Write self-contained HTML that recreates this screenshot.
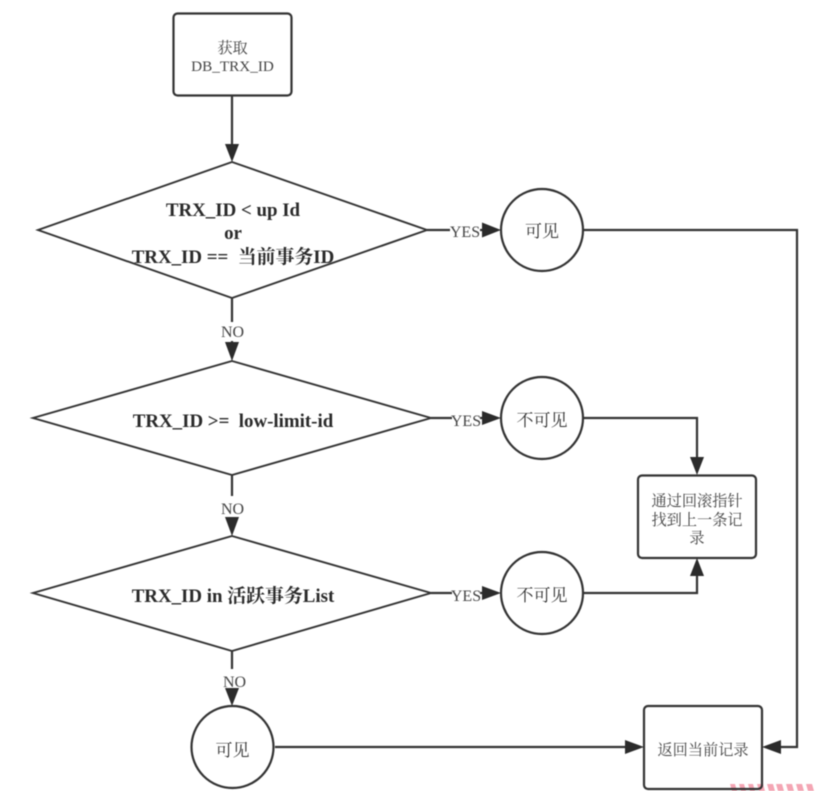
<!DOCTYPE html>
<html><head><meta charset="utf-8"><style>
html,body{margin:0;padding:0;background:#fff}
svg{display:block;filter:blur(.45px)}
text{font-family:"Liberation Serif","Noto Serif CJK SC",serif;text-anchor:middle;fill:#333}
.b{font-weight:bold;font-size:18.9px;fill:#2a2a2a}
.s{font-size:15.200px;fill:#444}
.c{font-size:17px;fill:#333}
.l{font-size:16px;fill:#444}
</style></head><body>
<svg width="818" height="791" viewBox="0 0 818 791" xmlns="http://www.w3.org/2000/svg">
<rect width="818" height="791" fill="#fff"/>
<g fill="#f4a6b4"><path d="M730 784h5l2 7h-5zM739 784h5l2 7h-5zM748 784h5l2 7h-5zM757 784h6l2 7h-6zM767 784h6l2 7h-6zM776 784h6l2 7h-6zM786 784h6l2 7h-6zM796 784h6l2 7h-6zM806 784h6l2 7h-6z"/></g>
<g fill="none" stroke="#333" stroke-width="2.2">
<rect x="173.5" y="13.5" width="118" height="82" rx="4"/>
<rect x="638" y="475.5" width="118" height="82.5" rx="4"/>
<rect x="644" y="706" width="118" height="83" rx="4"/>
<circle cx="542" cy="230" r="41"/>
<circle cx="542" cy="418" r="41"/>
<circle cx="542" cy="593" r="41"/>
<circle cx="232.5" cy="747" r="41"/>
</g>
<g fill="none" stroke="#333" stroke-width="1.9" stroke-linejoin="miter">
<path d="M232 162L427 230L232 298L38 230Z"/>
<path d="M232 361L431 418L232 475L33 418Z"/>
<path d="M232 536L431 593L232 651L33 593Z"/>
</g>
<g fill="none" stroke="#333" stroke-width="2.2">
<path d="M232 96V146"/>
<path d="M232 298V322M232 341V346"/>
<path d="M232 475V496M232 518V522"/>
<path d="M232 651V669M232 690V694"/>
<path d="M427 230H450M480 230H486"/>
<path d="M431 418H452M480 418H486"/>
<path d="M431 593H452M480 593H486"/>
<path d="M583 230H797V747H778"/>
<path d="M583 418H697V458"/>
<path d="M583 593H697V575"/>
<path d="M275 747H628"/>
</g>
<g fill="#2b2b2b">
<path d="M225 144H239L232 162Z"/>
<path d="M225 342H239L232 361Z"/>
<path d="M225 517H239L232 536Z"/>
<path d="M225 688H239L232 706Z"/>
<path d="M482 222.500L501 230L482 237.500Z"/>
<path d="M482 411L501 418L482 425Z"/>
<path d="M482 586L501 593L482 600Z"/>
<path d="M690 457H704L697 475Z"/>
<path d="M690 576H704L697 558Z"/>
<path d="M625 740L644 747L625 754Z"/>
<path d="M781 740L762 747L781 754Z"/>
</g>
<text class="s" x="232.500" y="53">获取</text>
<text class="s" x="232.500" y="71">DB_TRX_ID</text>
<text class="b" x="233" y="216">TRX_ID &lt; up Id</text>
<text class="b" x="233" y="239">or</text>
<text class="b" x="233" y="263">TRX_ID == &#160;当前事务ID</text>
<text class="b" x="233" y="427">TRX_ID &gt;= &#160;low-limit-id</text>
<text class="b" x="233" y="602">TRX_ID in 活跃事务List</text>
<text class="l" x="232.500" y="337">NO</text>
<text class="l" x="232.500" y="514">NO</text>
<text class="l" x="234.500" y="687">NO</text>
<text class="l" x="465" y="237">YES</text>
<text class="l" x="466" y="426">YES</text>
<text class="l" x="466" y="601">YES</text>
<text class="c" x="542" y="237">可见</text>
<text class="c" x="542" y="426">不可见</text>
<text class="c" x="542" y="601">不可见</text>
<text class="c" x="232.500" y="756">可见</text>
<text class="s" x="697" y="506">通过回滚指针</text>
<text class="s" x="697" y="525">找到上一条记</text>
<text class="s" x="697" y="543">录</text>
<text class="s" x="703" y="755">返回当前记录</text>
</svg>
</body></html>
